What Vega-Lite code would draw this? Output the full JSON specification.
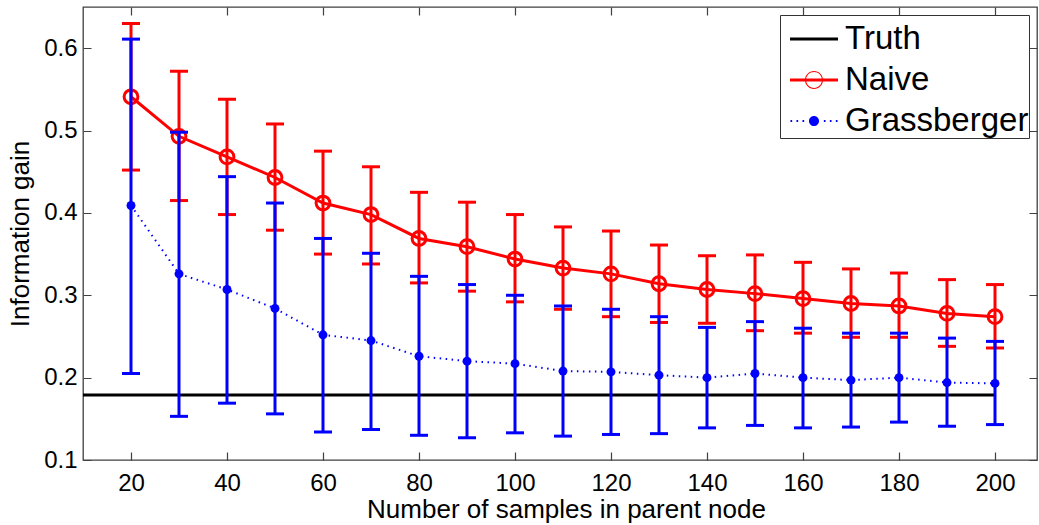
{
  "$schema": "https://vega.github.io/schema/vega-lite/v6.json",
  "width": 954,
  "height": 453,
  "autosize": {"type": "none"},
  "padding": {"left": 83, "top": 7, "right": 2, "bottom": 65},
  "background": "white",
  "config": {
    "font": "Liberation Sans",
    "view": {"stroke": "#404040", "strokeWidth": 1.3},
    "axis": {
      "grid": true, "domain": false, "ticks": false, "gridColor": "#404040", "gridWidth": 1.2, "gridOpacity": 1,
      "labelFont": "Liberation Sans", "labelFontSize": 24, "labelColor": "black",
      "titleFont": "Liberation Sans", "titleFontSize": 26, "titleFontWeight": "normal", "titleColor": "black",
      "labelFlush": false, "labelOverlap": false
    },
    "axisX": {"gridDash": [8, 437]},
    "axisY": {"gridDash": [8, 938]},
    "legend": {
      "orient": "none", "legendX": 697, "legendY": 8, "title": null,
      "symbolSize": 2304, "symbolOffset": 10, "labelFont": "Liberation Sans", "labelFontSize": 33, "labelColor": "black", "labelLimit": 400,
      "labelOffset": 7, "strokeColor": "#333333", "fillColor": "white", "padding": 0, "rowPadding": 0,
      "symbolStrokeWidth": 0, "symbolOpacity": 1
    }
  },
  "data": {"values": [
    {"n": 10, "series": "Truth", "mean": 0.179},
    {"n": 200, "series": "Truth", "mean": 0.179},
    {"n": 20, "series": "Naive", "mean": 0.541, "lo": 0.452, "hi": 0.630},
    {"n": 30, "series": "Naive", "mean": 0.493, "lo": 0.415, "hi": 0.572},
    {"n": 40, "series": "Naive", "mean": 0.468, "lo": 0.398, "hi": 0.538},
    {"n": 50, "series": "Naive", "mean": 0.443, "lo": 0.379, "hi": 0.508},
    {"n": 60, "series": "Naive", "mean": 0.412, "lo": 0.350, "hi": 0.475},
    {"n": 70, "series": "Naive", "mean": 0.398, "lo": 0.338, "hi": 0.456},
    {"n": 80, "series": "Naive", "mean": 0.369, "lo": 0.315, "hi": 0.425},
    {"n": 90, "series": "Naive", "mean": 0.359, "lo": 0.305, "hi": 0.413},
    {"n": 100, "series": "Naive", "mean": 0.344, "lo": 0.292, "hi": 0.398},
    {"n": 110, "series": "Naive", "mean": 0.333, "lo": 0.283, "hi": 0.383},
    {"n": 120, "series": "Naive", "mean": 0.326, "lo": 0.274, "hi": 0.378},
    {"n": 130, "series": "Naive", "mean": 0.314, "lo": 0.267, "hi": 0.361},
    {"n": 140, "series": "Naive", "mean": 0.307, "lo": 0.266, "hi": 0.348},
    {"n": 150, "series": "Naive", "mean": 0.302, "lo": 0.257, "hi": 0.349},
    {"n": 160, "series": "Naive", "mean": 0.296, "lo": 0.254, "hi": 0.340},
    {"n": 170, "series": "Naive", "mean": 0.290, "lo": 0.249, "hi": 0.332},
    {"n": 180, "series": "Naive", "mean": 0.287, "lo": 0.249, "hi": 0.327},
    {"n": 190, "series": "Naive", "mean": 0.278, "lo": 0.238, "hi": 0.319},
    {"n": 200, "series": "Naive", "mean": 0.274, "lo": 0.236, "hi": 0.313},
    {"n": 20, "series": "Grassberger", "mean": 0.409, "lo": 0.205, "hi": 0.611},
    {"n": 30, "series": "Grassberger", "mean": 0.326, "lo": 0.153, "hi": 0.498},
    {"n": 40, "series": "Grassberger", "mean": 0.307, "lo": 0.169, "hi": 0.444},
    {"n": 50, "series": "Grassberger", "mean": 0.284, "lo": 0.156, "hi": 0.412},
    {"n": 60, "series": "Grassberger", "mean": 0.252, "lo": 0.134, "hi": 0.369},
    {"n": 70, "series": "Grassberger", "mean": 0.245, "lo": 0.137, "hi": 0.351},
    {"n": 80, "series": "Grassberger", "mean": 0.226, "lo": 0.130, "hi": 0.323},
    {"n": 90, "series": "Grassberger", "mean": 0.220, "lo": 0.127, "hi": 0.313},
    {"n": 100, "series": "Grassberger", "mean": 0.217, "lo": 0.133, "hi": 0.300},
    {"n": 110, "series": "Grassberger", "mean": 0.208, "lo": 0.129, "hi": 0.287},
    {"n": 120, "series": "Grassberger", "mean": 0.207, "lo": 0.131, "hi": 0.283},
    {"n": 130, "series": "Grassberger", "mean": 0.203, "lo": 0.132, "hi": 0.274},
    {"n": 140, "series": "Grassberger", "mean": 0.200, "lo": 0.139, "hi": 0.261},
    {"n": 150, "series": "Grassberger", "mean": 0.205, "lo": 0.142, "hi": 0.268},
    {"n": 160, "series": "Grassberger", "mean": 0.200, "lo": 0.139, "hi": 0.260},
    {"n": 170, "series": "Grassberger", "mean": 0.197, "lo": 0.140, "hi": 0.254},
    {"n": 180, "series": "Grassberger", "mean": 0.200, "lo": 0.146, "hi": 0.254},
    {"n": 190, "series": "Grassberger", "mean": 0.194, "lo": 0.141, "hi": 0.248},
    {"n": 200, "series": "Grassberger", "mean": 0.193, "lo": 0.143, "hi": 0.244}
  ]},
  "layer": [
    {
      "mark": {"type": "point", "filled": true, "opacity": 0, "size": 10},
      "encoding": {
        "x": {"field": "n", "type": "quantitative", "scale": {"domain": [10, 208.75], "nice": false, "zero": false},
          "axis": {"orient": "bottom", "values": [20,40,60,80,100,120,140,160,180,200], "labelPadding": 11,
            "title": "Number of samples in parent node", "titleX": 483, "titleY": 57, "titleBaseline": "alphabetic", "titleAlign": "center"}},
        "y": {"field": "mean", "type": "quantitative", "scale": {"domain": [0.1, 0.65], "nice": false, "zero": false},
          "axis": {"orient": "left", "values": [0.1,0.2,0.3,0.4,0.5,0.6], "format": ".1f", "labelPadding": 6,
            "title": "Information gain", "titleX": -55, "titleY": 226.5, "titleAngle": -90, "titleBaseline": "alphabetic", "titleAlign": "center"}},
        "color": {"field": "series", "type": "nominal",
          "scale": {"domain": ["Truth", "Naive", "Grassberger"], "range": ["#000000", "#ff0000", "#0000ff"]},
          "legend": {"labelExpr": "datum.label + '\u00a0'"}},
        "shape": {"field": "series", "type": "nominal",
          "scale": {"domain": ["Truth", "Naive", "Grassberger"], "range": [
            "M-1,-0.0625H1V0.0625H-1Z",
            "M-1,-0.0625H1V0.0625H-1Z M0.375,0A0.375,0.375 0 1,1 -0.375,0A0.375,0.375 0 1,1 0.375,0Z M0.33,0A0.33,0.33 0 1,0 -0.33,0A0.33,0.33 0 1,0 0.33,0Z",
            "M-0.98,-0.04h0.07v0.08h-0.07Z M-0.73,-0.04h0.07v0.08h-0.07Z M-0.48,-0.04h0.07v0.08h-0.07Z M0.41,-0.04h0.07v0.08h-0.07Z M0.66,-0.04h0.07v0.08h-0.07Z M0.91,-0.04h0.07v0.08h-0.07Z M0.21,0A0.21,0.21 0 1,1 -0.21,0A0.21,0.21 0 1,1 0.21,0Z"
          ]},
          "legend": {"labelExpr": "datum.label + '\u00a0'"}}
      }
    },
    {
      "transform": [{"filter": "datum.series === 'Truth'"}],
      "mark": {"type": "line", "strokeWidth": 3, "opacity": 1},
      "encoding": {
        "x": {"field": "n", "type": "quantitative"},
        "y": {"field": "mean", "type": "quantitative"},
        "color": {"field": "series", "type": "nominal"}
      }
    },
    {
      "transform": [{"filter": "datum.series === 'Naive'"}],
      "mark": {"type": "rule", "strokeWidth": 3, "opacity": 1},
      "encoding": {
        "x": {"field": "n", "type": "quantitative"},
        "y": {"field": "lo", "type": "quantitative"},
        "y2": {"field": "hi"},
        "color": {"field": "series", "type": "nominal"}
      }
    },
    {
      "transform": [{"filter": "datum.series === 'Naive'"}],
      "mark": {"type": "tick", "orient": "horizontal", "size": 18, "thickness": 3, "opacity": 1},
      "encoding": {
        "x": {"field": "n", "type": "quantitative"},
        "y": {"field": "lo", "type": "quantitative"},
        "color": {"field": "series", "type": "nominal"}
      }
    },
    {
      "transform": [{"filter": "datum.series === 'Naive'"}],
      "mark": {"type": "tick", "orient": "horizontal", "size": 18, "thickness": 3, "opacity": 1},
      "encoding": {
        "x": {"field": "n", "type": "quantitative"},
        "y": {"field": "hi", "type": "quantitative"},
        "color": {"field": "series", "type": "nominal"}
      }
    },
    {
      "transform": [{"filter": "datum.series === 'Naive'"}],
      "mark": {"type": "line", "strokeWidth": 3, "opacity": 1},
      "encoding": {
        "x": {"field": "n", "type": "quantitative"},
        "y": {"field": "mean", "type": "quantitative"},
        "color": {"field": "series", "type": "nominal"}
      }
    },
    {
      "transform": [{"filter": "datum.series === 'Naive'"}],
      "mark": {"type": "point", "filled": false, "size": 190, "strokeWidth": 3, "opacity": 1},
      "encoding": {
        "x": {"field": "n", "type": "quantitative"},
        "y": {"field": "mean", "type": "quantitative"},
        "color": {"field": "series", "type": "nominal"}
      }
    },
    {
      "transform": [{"filter": "datum.series === 'Grassberger'"}],
      "mark": {"type": "rule", "strokeWidth": 3, "opacity": 1},
      "encoding": {
        "x": {"field": "n", "type": "quantitative"},
        "y": {"field": "lo", "type": "quantitative"},
        "y2": {"field": "hi"},
        "color": {"field": "series", "type": "nominal"}
      }
    },
    {
      "transform": [{"filter": "datum.series === 'Grassberger'"}],
      "mark": {"type": "tick", "orient": "horizontal", "size": 18, "thickness": 3, "opacity": 1},
      "encoding": {
        "x": {"field": "n", "type": "quantitative"},
        "y": {"field": "lo", "type": "quantitative"},
        "color": {"field": "series", "type": "nominal"}
      }
    },
    {
      "transform": [{"filter": "datum.series === 'Grassberger'"}],
      "mark": {"type": "tick", "orient": "horizontal", "size": 18, "thickness": 3, "opacity": 1},
      "encoding": {
        "x": {"field": "n", "type": "quantitative"},
        "y": {"field": "hi", "type": "quantitative"},
        "color": {"field": "series", "type": "nominal"}
      }
    },
    {
      "transform": [{"filter": "datum.series === 'Grassberger'"}],
      "mark": {"type": "line", "strokeWidth": 2, "strokeDash": [1.5, 4.5], "opacity": 1},
      "encoding": {
        "x": {"field": "n", "type": "quantitative"},
        "y": {"field": "mean", "type": "quantitative"},
        "color": {"field": "series", "type": "nominal"}
      }
    },
    {
      "transform": [{"filter": "datum.series === 'Grassberger'"}],
      "mark": {"type": "point", "filled": true, "size": 80, "opacity": 1},
      "encoding": {
        "x": {"field": "n", "type": "quantitative"},
        "y": {"field": "mean", "type": "quantitative"},
        "color": {"field": "series", "type": "nominal"}
      }
    }
  ]
}
